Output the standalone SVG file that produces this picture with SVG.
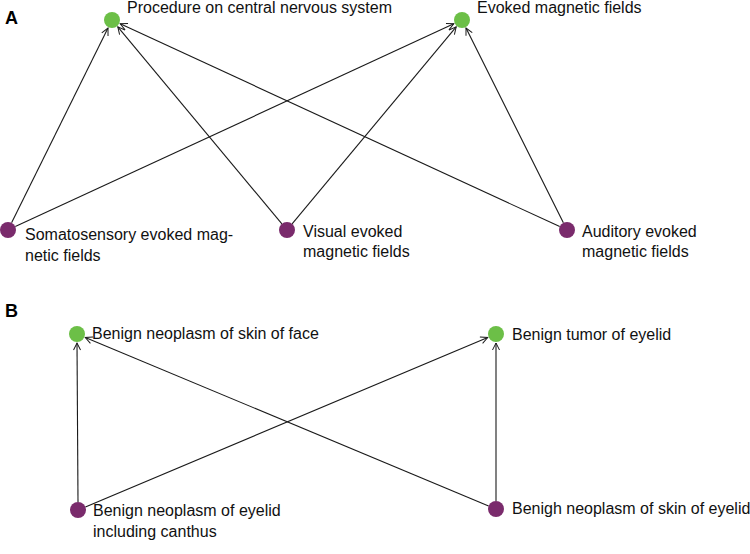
<svg xmlns="http://www.w3.org/2000/svg" width="750" height="554" viewBox="0 0 750 554">
<style>
.lbl{font-family:"Liberation Sans","DejaVu Sans",sans-serif;font-size:16px;fill:#111}
.panel{font-family:"Liberation Sans",Arial,sans-serif;font-size:18px;font-weight:bold;fill:#000}
.tgt{fill:#6cbf47}
.src{fill:#7a2b6c}
.edge{stroke:#1a1a1a;stroke-width:1.1;fill:none;marker-end:url(#arr)}
</style>
<defs>
<marker id="arr" markerWidth="10" markerHeight="10" refX="8" refY="5" orient="auto" markerUnits="userSpaceOnUse">
<path d="M1,1.5 L8,5 L1,8.5" fill="none" stroke="#1a1a1a" stroke-width="1"/>
</marker>
</defs>
<rect width="750" height="554" fill="#fff"/>
<text class="panel" x="5" y="24">A</text>
<text class="panel" x="5" y="317">B</text>
<g id="connectors">
<line class="edge" x1="11.6" y1="222.8" x2="108.0" y2="28.1"/>
<line class="edge" x1="15.3" y1="226.6" x2="453.8" y2="23.8"/>
<line class="edge" x1="281.9" y1="223.9" x2="117.8" y2="26.9"/>
<line class="edge" x1="292.1" y1="223.9" x2="456.2" y2="26.9"/>
<line class="edge" x1="559.7" y1="226.6" x2="120.2" y2="23.8"/>
<line class="edge" x1="563.4" y1="222.8" x2="466.0" y2="28.0"/>
<line class="edge" x1="78" y1="502" x2="77" y2="343"/>
<line class="edge" x1="85.4" y1="506.9" x2="487.7" y2="337.5"/>
<line class="edge" x1="488.6" y1="505.9" x2="85.3" y2="337.5"/>
<line class="edge" x1="496" y1="501" x2="496" y2="343"/>
</g>
<g id="procedure_cns">
<circle class="tgt" cx="112" cy="20" r="8"/>
<text class="lbl" x="127" y="13">Procedure on central nervous system</text>
</g>
<g id="evoked_mf">
<circle class="tgt" cx="462" cy="20" r="8"/>
<text class="lbl" x="477" y="13">Evoked magnetic fields</text>
</g>
<g id="somatosensory">
<circle class="src" cx="8" cy="230" r="8"/>
<text class="lbl" x="25" y="240">Somatosensory evoked mag-</text>
<text class="lbl" x="25" y="261">netic fields</text>
</g>
<g id="visual">
<circle class="src" cx="287" cy="230" r="8"/>
<text class="lbl" x="303" y="237">Visual evoked</text>
<text class="lbl" x="303" y="257">magnetic fields</text>
</g>
<g id="auditory">
<circle class="src" cx="567" cy="230" r="8"/>
<text class="lbl" x="582" y="237">Auditory evoked</text>
<text class="lbl" x="582" y="257">magnetic fields</text>
</g>
<g id="skin_face">
<circle class="tgt" cx="77" cy="334" r="8"/>
<text class="lbl" x="92" y="339">Benign neoplasm of skin of face</text>
</g>
<g id="tumor_eyelid">
<circle class="tgt" cx="496" cy="334" r="8"/>
<text class="lbl" x="512" y="340">Benign tumor of eyelid</text>
</g>
<g id="eyelid_canthus">
<circle class="src" cx="78" cy="510" r="8"/>
<text class="lbl" x="93" y="516">Benign neoplasm of eyelid</text>
<text class="lbl" x="93" y="537">including canthus</text>
</g>
<g id="skin_eyelid">
<circle class="src" cx="496" cy="509" r="8"/>
<text class="lbl" x="512" y="514">Benigh neoplasm of skin of eyelid</text>
</g>
</svg>
